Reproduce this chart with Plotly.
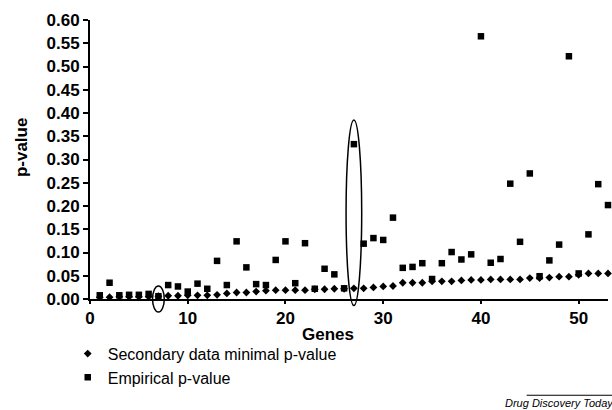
import plotly.graph_objects as go

genes = list(range(1, 54))
empirical = [0.008, 0.035, 0.008, 0.009, 0.009, 0.011, 0.006, 0.030, 0.027, 0.016,
             0.033, 0.022, 0.082, 0.030, 0.124, 0.068, 0.032, 0.030, 0.084, 0.124,
             0.034, 0.120, 0.022, 0.065, 0.053, 0.023, 0.333, 0.119, 0.131, 0.127,
             0.175, 0.067, 0.069, 0.077, 0.043, 0.077, 0.101, 0.085, 0.096, 0.565,
             0.078, 0.086, 0.248, 0.123, 0.270, 0.049, 0.083, 0.117, 0.522, 0.055,
             0.139, 0.247, 0.202]
secondary = [0.004, 0.004, 0.005, 0.005, 0.005, 0.005, 0.006, 0.007, 0.007, 0.008,
             0.008, 0.008, 0.009, 0.012, 0.014, 0.014, 0.016, 0.018, 0.019, 0.019,
             0.019, 0.019, 0.021, 0.021, 0.022, 0.022, 0.023, 0.023, 0.025, 0.027,
             0.028, 0.035, 0.035, 0.035, 0.038, 0.038, 0.038, 0.040, 0.041, 0.041,
             0.042, 0.042, 0.042, 0.042, 0.045, 0.045, 0.046, 0.048, 0.048, 0.052,
             0.055, 0.055, 0.055]
y_ticks = [0.00, 0.05, 0.10, 0.15, 0.20, 0.25, 0.30, 0.35, 0.40, 0.45, 0.50, 0.55, 0.60]
x_ticks = [0, 10, 20, 30, 40, 50]
x_range = [0, 53]
y_range = [0, 0.6]
# highlighted genes (ellipses): (gene, y_low, y_high, half-width in genes)
highlights = [(7, -0.028, 0.028, 0.6), (27, -0.014, 0.385, 0.8)]

FONT = "Liberation Sans, Arial, sans-serif"

fig = go.Figure()
fig.add_trace(go.Scatter(
    x=genes, y=secondary, mode="markers", name="Secondary data minimal p-value",
    marker=dict(symbol="diamond", size=6, color="black"), cliponaxis=False))
fig.add_trace(go.Scatter(
    x=genes, y=empirical, mode="markers", name="Empirical p-value",
    marker=dict(symbol="square", size=6.5, color="black"), cliponaxis=False))


def fx(v):
    return (v - x_range[0]) / (x_range[1] - x_range[0])


def fy(v):
    return (v - y_range[0]) / (y_range[1] - y_range[0])


shapes = []
for g, lo, hi, hw in highlights:
    shapes.append(dict(type="circle", xref="x domain", yref="y domain",
                       x0=fx(g - hw), x1=fx(g + hw), y0=fy(lo), y1=fy(hi),
                       line=dict(color="black", width=1.5), layer="above"))
shapes.append(dict(type="line", xref="paper", yref="paper", x0=0.843, x1=1.008,
                   y0=-0.345, y1=-0.345, line=dict(color="black", width=1)))

fig.update_layout(
    width=612, height=410,
    margin=dict(l=90, r=4, t=20, b=111),
    paper_bgcolor="white", plot_bgcolor="white",
    font=dict(family=FONT, color="black"),
    showlegend=True,
    legend=dict(x=-0.043, y=-0.135, xanchor="left", yanchor="top",
                font=dict(size=16, family=FONT), itemwidth=30,
                tracegroupgap=0, bgcolor="rgba(0,0,0,0)"),
    xaxis=dict(range=x_range, tickvals=x_ticks, showline=True, linecolor="black",
               linewidth=2, ticks="outside", ticklen=3, tickwidth=1.5,
               tickcolor="black", showgrid=False, zeroline=False,
               tickfont=dict(size=17, family=FONT, weight="bold")),
    yaxis=dict(range=y_range, tickvals=y_ticks, tickformat=".2f", showline=True,
               linecolor="black", linewidth=2, ticks="outside", ticklen=5,
               tickwidth=1.5, tickcolor="black", showgrid=False, zeroline=False,
               tickfont=dict(size=17, family=FONT, weight="bold")),
    annotations=[
        dict(text="<b>Genes</b>", xref="x", yref="paper", x=24.4, y=-0.128,
             xanchor="center", yanchor="middle", showarrow=False,
             font=dict(size=17, family=FONT)),
        dict(text="<b>p-value</b>", xref="paper", yref="paper", x=-0.131, y=0.545,
             xanchor="center", yanchor="middle", showarrow=False, textangle=-90,
             font=dict(size=17, family=FONT)),
        dict(text="<i>Drug Discovery Today</i>", xref="paper", yref="paper",
             x=1.016, y=-0.373, xanchor="right", yanchor="middle", showarrow=False,
             font=dict(size=11, family=FONT)),
    ],
    shapes=shapes,
)

fig.write_html("out.html")
